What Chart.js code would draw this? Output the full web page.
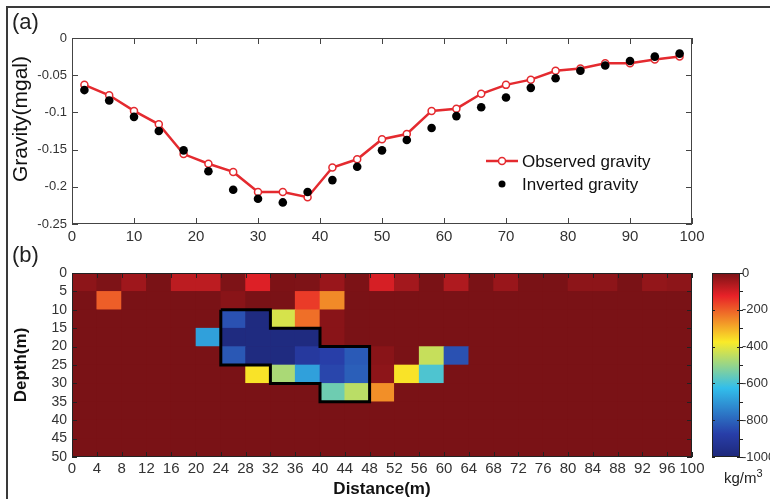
<!DOCTYPE html>
<html>
<head>
    <meta charset="utf-8">
    <title>Gravity profile and density model</title>
    <style>
        body{ margin:0; background:white; font-family:"Liberation Sans", Arial, sans-serif; }
        #figure{ position:relative; width:770px; height:503px; overflow:hidden; }
        #figure canvas{ position:absolute; }
        .frame{ position:absolute; left:6px; top:6px; width:820px; height:491px; border-top:2px solid #3a3a3a; border-left:2px solid #3a3a3a; }
        .panel{ position:absolute; left:12px; font-size:22px; line-height:22px; color:#222; }
        .unit{ position:absolute; left:724px; top:467px; font-size:15px; color:#222; }
        .unit sup{ font-size:11px; }
    </style>
</head>
<body>
<div id="figure">
    <div class="frame"></div>
    <canvas id="gravity" width="770" height="250" style="left:0;top:0"></canvas>
    <canvas id="density" width="720" height="253" style="left:0;top:250px"></canvas>
    <canvas id="colorbar" width="80" height="253" style="left:690px;top:250px"></canvas>
    <div class="panel" style="top:11px">(a)</div>
    <div class="panel" style="top:244px">(b)</div>
    <div class="unit">kg/m<sup>3</sup></div>
</div>

<script src="https://cdn.jsdelivr.net/npm/chart.js"></script>
<script>
    // (a) gravity profile, mgal
    const distance = [2, 6, 10, 14, 18, 22, 26, 30, 34, 38, 42, 46, 50, 54, 58, 62, 66, 70, 74, 78, 82, 86, 90, 94, 98];
    const observedGravity = [-0.063, -0.077, -0.098, -0.116, -0.156, -0.169, -0.180, -0.207, -0.207, -0.214, -0.174, -0.163, -0.136,
        -0.129, -0.098, -0.095, -0.075, -0.063, -0.056, -0.044, -0.041, -0.034, -0.034, -0.029, -0.025];
    const invertedGravity = [-0.070, -0.084, -0.106, -0.125, -0.151, -0.179, -0.204, -0.216, -0.221, -0.207, -0.191, -0.173, -0.151,
        -0.137, -0.121, -0.105, -0.093, -0.080, -0.067, -0.054, -0.044, -0.037, -0.031, -0.025, -0.021];

    // (b) density contrast model, kg/m3, one row per 5 m layer, one column per 4 m cell
    const cellCentre = [2, 6, 10, 14, 18, 22, 26, 30, 34, 38, 42, 46, 50, 54, 58, 62, 66, 70, 74, 78, 82, 86, 90, 94, 98];
    const layerTop = [0, 5, 10, 15, 20, 25, 30, 35, 40, 45];
    const layerThickness = 5;
    const density = [
        [-22, -5, -42, 0, -75, -75, -5, -112, -3, -5, -35, -2, -104, -47, 0, -60, 0, -35, 0, 0, -22, -22, 0, -28, -22],
        [0, -200, 0, 0, 0, 0, -17, 0, 0, -156, -254, 0, 0, 0, 0, 0, 0, 0, 0, 0, 0, 0, 0, 0, 0],
        [0, 0, 0, 0, 0, 0, -837, -985, -420, -221, -17, 0, 0, 0, 0, 0, 0, 0, 0, 0, 0, 0, 0, 0, 0],
        [0, 0, 0, 0, 0, -683, -985, -985, -985, -985, -17, 0, 0, 0, 0, 0, 0, 0, 0, 0, 0, 0, 0, 0, 0],
        [0, 0, 0, 0, 0, 0, -825, -985, -985, -903, -875, -820, -17, 0, -440, -837, 0, 0, 0, 0, 0, 0, 0, 0, 0],
        [0, 0, 0, 0, 0, 0, 0, -365, -475, -683, -860, -810, -22, -365, -590, 0, 0, 0, 0, 0, 0, 0, 0, 0, 0],
        [0, 0, 0, 0, 0, 0, 0, 0, 0, 0, -550, -455, -261, 0, 0, 0, 0, 0, 0, 0, 0, 0, 0, 0, 0],
        [0, 0, 0, 0, 0, 0, 0, 0, 0, 0, 0, 0, 0, 0, 0, 0, 0, 0, 0, 0, 0, 0, 0, 0, 0],
        [0, 0, 0, 0, 0, 0, 0, 0, 0, 0, 0, 0, 0, 0, 0, 0, 0, 0, 0, 0, 0, 0, 0, 0, 0],
        [0, 0, 0, 0, 0, 0, 0, 0, 0, 0, 0, 0, 0, 0, 0, 0, 0, 0, 0, 0, 0, 0, 0, 0, 0]
    ];
    // outline of the low density body
    const bodyOutlineX = [24, 32, 32, 40, 40, 48, 48, 40, 40, 32, 32, 24, 24];
    const bodyOutlineY = [10, 10, 15, 15, 20, 20, 35, 35, 30, 30, 25, 25, 10];

    const FONT = '"Liberation Sans", Arial, sans-serif';
    const RED = '#e42a2f';

    // jet colormap key colours, as they came out in the printed figure
    const jetKeys = [
        [0, [30, 40, 122]],
        [0.125, [40, 62, 168]],
        [0.375, [50, 190, 235]],
        [0.625, [250, 235, 40]],
        [0.875, [232, 34, 40]],
        [1, [122, 18, 22]]
    ];
    function jet(v) {
        const t = Math.max(0, Math.min(1, (v + 1000) / 1000));
        let i = 0;
        while (i < jetKeys.length - 2 && t > jetKeys[i + 1][0]) i++;
        const [t0, c0] = jetKeys[i];
        const [t1, c1] = jetKeys[i + 1];
        const k = (t - t0) / (t1 - t0);
        const c = c0.map((a, j) => Math.round(a + (c1[j] - a) * k));
        return 'rgb(' + c.join(',') + ')';
    }

    // box round the plot area with ticks pointing inwards
    function frameTicks(len, color, sides) {
        return {
            id: 'frameTicks',
            afterDatasetsDraw(chart) {
                const {ctx, chartArea: a, scales} = chart;
                ctx.save();
                ctx.strokeStyle = color;
                ctx.lineWidth = 1;
                ctx.beginPath();
                if (sides.x) {
                    scales.x.ticks.forEach(t => {
                        const p = Math.round(scales.x.getPixelForValue(t.value)) + 0.5;
                        ctx.moveTo(p, a.bottom); ctx.lineTo(p, a.bottom - len);
                        ctx.moveTo(p, a.top); ctx.lineTo(p, a.top + len);
                    });
                }
                if (sides.y) {
                    scales.y.ticks.forEach(t => {
                        const p = Math.round(scales.y.getPixelForValue(t.value)) + 0.5;
                        ctx.moveTo(a.left, p); ctx.lineTo(a.left + len, p);
                        ctx.moveTo(a.right, p); ctx.lineTo(a.right - len, p);
                    });
                }
                ctx.stroke();
                ctx.strokeRect(Math.round(a.left) + 0.5, Math.round(a.top) + 0.5, Math.round(a.width) - 1, Math.round(a.height) - 1);
                ctx.restore();
            }
        };
    }

    // colorbar: small marks inside at labelled values, outside at every step
    const barTicks = {
        id: 'barTicks',
        afterDatasetsDraw(chart) {
            const {ctx, chartArea: a, scales} = chart;
            ctx.save();
            ctx.strokeStyle = '#222';
            ctx.lineWidth = 1;
            ctx.beginPath();
            scales.y.ticks.forEach(t => {
                const p = Math.round(scales.y.getPixelForValue(t.value)) + 0.5;
                if (t.label !== '') {
                    ctx.moveTo(a.left, p); ctx.lineTo(a.left + 3, p);
                    ctx.moveTo(a.right, p); ctx.lineTo(a.right - 3, p);
                }
                ctx.moveTo(a.right, p); ctx.lineTo(a.right + 3, p);
            });
            ctx.stroke();
            ctx.strokeRect(Math.round(a.left) + 0.5, Math.round(a.top) + 0.5, Math.round(a.width) - 1, Math.round(a.height) - 1);
            ctx.restore();
        }
    };

    const gravityLegend = {
        id: 'gravityLegend',
        afterDraw(chart) {
            const ctx = chart.ctx;
            ctx.save();
            // y axis caption, sits a little above the middle of the axis
            ctx.translate(21, 119);
            ctx.rotate(-Math.PI / 2);
            ctx.font = '21px ' + FONT;
            ctx.fillStyle = '#111';
            ctx.textAlign = 'center';
            ctx.textBaseline = 'middle';
            ctx.fillText('Gravity(mgal)', 0, 0);
            ctx.restore();

            ctx.save();
            ctx.font = '17px ' + FONT;
            ctx.textBaseline = 'middle';
            // observed
            ctx.strokeStyle = RED;
            ctx.lineWidth = 2.5;
            ctx.beginPath(); ctx.moveTo(486, 161); ctx.lineTo(518, 161); ctx.stroke();
            ctx.beginPath(); ctx.arc(502, 161, 3.5, 0, Math.PI * 2);
            ctx.fillStyle = 'white'; ctx.fill();
            ctx.lineWidth = 1.5; ctx.stroke();
            ctx.fillStyle = '#111';
            ctx.fillText('Observed gravity', 522, 162);
            // inverted
            ctx.beginPath(); ctx.arc(502, 184, 3.5, 0, Math.PI * 2);
            ctx.fillStyle = 'black'; ctx.fill();
            ctx.fillStyle = '#111';
            ctx.fillText('Inverted gravity', 522, 185);
            ctx.restore();
        }
    };

    const mapBackground = {
        id: 'mapBackground',
        beforeDatasetsDraw(chart) {
            const {ctx, chartArea: a} = chart;
            ctx.save();
            ctx.fillStyle = jet(0);
            ctx.fillRect(a.left, a.top, a.width, a.height);
            ctx.restore();
        }
    };

    const noGrid = { display: false, drawTicks: false };

    new Chart('gravity', {
        type: 'line',
        data: {
            datasets: [{
                label: 'Inverted gravity',
                data: distance.map((x, i) => ({x: x, y: invertedGravity[i]})),
                showLine: false,
                pointRadius: 4.3,
                pointBackgroundColor: 'black',
                pointBorderColor: 'black',
                pointBorderWidth: 0
            }, {
                label: 'Observed gravity',
                data: distance.map((x, i) => ({x: x, y: observedGravity[i]})),
                borderColor: RED,
                borderWidth: 2.5,
                pointRadius: 3.5,
                pointBackgroundColor: 'white',
                pointBorderColor: RED,
                pointBorderWidth: 1.5,
                tension: 0
            }]
        },
        options: {
            responsive: false,
            animation: false,
            layout: { padding: { left: 0, top: 38, right: 78, bottom: 0 } },
            plugins: { legend: { display: false }, tooltip: { enabled: false } },
            scales: {
                x: {
                    type: 'linear', min: 0, max: 100,
                    grid: noGrid, border: { display: false },
                    ticks: { stepSize: 10, padding: 4, color: '#333', font: { family: FONT, size: 15 } },
                    afterFit: s => { s.height = 26; }
                },
                y: {
                    min: -0.25, max: 0,
                    grid: noGrid, border: { display: false },
                    ticks: {
                        stepSize: 0.05, padding: 5, color: '#333', font: { family: FONT, size: 13 },
                        callback: v => String(Math.round(v * 100) / 100)
                    },
                    afterFit: s => { s.width = 72; }
                }
            }
        },
        plugins: [frameTicks(6, '#444', { x: true, y: true }), gravityLegend]
    });

    const cells = [];
    layerTop.forEach((top, r) => {
        cellCentre.forEach((x, c) => {
            cells.push({x: x, y: [top, top + layerThickness], v: density[r][c]});
        });
    });

    new Chart('density', {
        type: 'bar',
        data: {
            datasets: [{
                type: 'line',
                data: bodyOutlineX.map((x, i) => ({x: x, y: bodyOutlineY[i]})),
                borderColor: 'black',
                borderWidth: 3,
                borderJoinStyle: 'miter',
                pointRadius: 0,
                tension: 0,
                fill: false,
                order: 0
            }, {
                data: cells,
                backgroundColor: ctx => jet(ctx.raw ? ctx.raw.v : 0),
                borderWidth: 0,
                barPercentage: 1,
                categoryPercentage: 1,
                order: 1
            }]
        },
        options: {
            responsive: false,
            animation: false,
            layout: { padding: { left: 0, top: 23, right: 28, bottom: 0 } },
            plugins: { legend: { display: false }, tooltip: { enabled: false } },
            scales: {
                x: {
                    type: 'linear', min: 0, max: 100, offset: false,
                    grid: { display: false, drawTicks: false, offset: false }, border: { display: false },
                    ticks: { stepSize: 4, autoSkip: false, maxRotation: 0, padding: 3, color: '#333', font: { family: FONT, size: 15 } },
                    title: { display: true, text: 'Distance(m)', color: '#111', padding: { top: 0, bottom: 3 }, font: { family: FONT, size: 17, weight: 'bold' } },
                    afterFit: s => { s.height = 46; }
                },
                y: {
                    min: 0, max: 50, reverse: true,
                    grid: noGrid, border: { display: false },
                    ticks: { stepSize: 5, autoSkip: false, padding: 5, color: '#333', font: { family: FONT, size: 14 } },
                    title: { display: true, text: 'Depth(m)', color: '#111', padding: { top: 11 }, font: { family: FONT, size: 17, weight: 'bold' } },
                    afterFit: s => { s.width = 72; }
                }
            }
        },
        plugins: [mapBackground, frameTicks(5, '#222', { x: true, y: true })]
    });

    new Chart('colorbar', {
        type: 'bar',
        data: {
            labels: [''],
            datasets: [{
                data: [[-1000, 0]],
                backgroundColor: ctx => {
                    const a = ctx.chart.chartArea;
                    if (!a) return jet(0);
                    const g = ctx.chart.ctx.createLinearGradient(0, a.bottom, 0, a.top);
                    jetKeys.forEach(k => g.addColorStop(k[0], 'rgb(' + k[1].join(',') + ')'));
                    return g;
                },
                borderWidth: 0,
                barPercentage: 1,
                categoryPercentage: 1
            }]
        },
        options: {
            responsive: false,
            animation: false,
            layout: { padding: { left: 22, top: 23, right: 0, bottom: 46 } },
            plugins: { legend: { display: false }, tooltip: { enabled: false } },
            scales: {
                x: { display: false },
                y: {
                    position: 'right', min: -1000, max: 0,
                    grid: noGrid, border: { display: false },
                    ticks: {
                        stepSize: 100, autoSkip: false, padding: 2, color: '#333', font: { family: FONT, size: 13 },
                        callback: v => (v % 200 === 0 ? String(v) : '')
                    },
                    afterFit: s => { s.width = 30; }
                }
            }
        },
        plugins: [barTicks]
    });
</script>
</body>
</html>
